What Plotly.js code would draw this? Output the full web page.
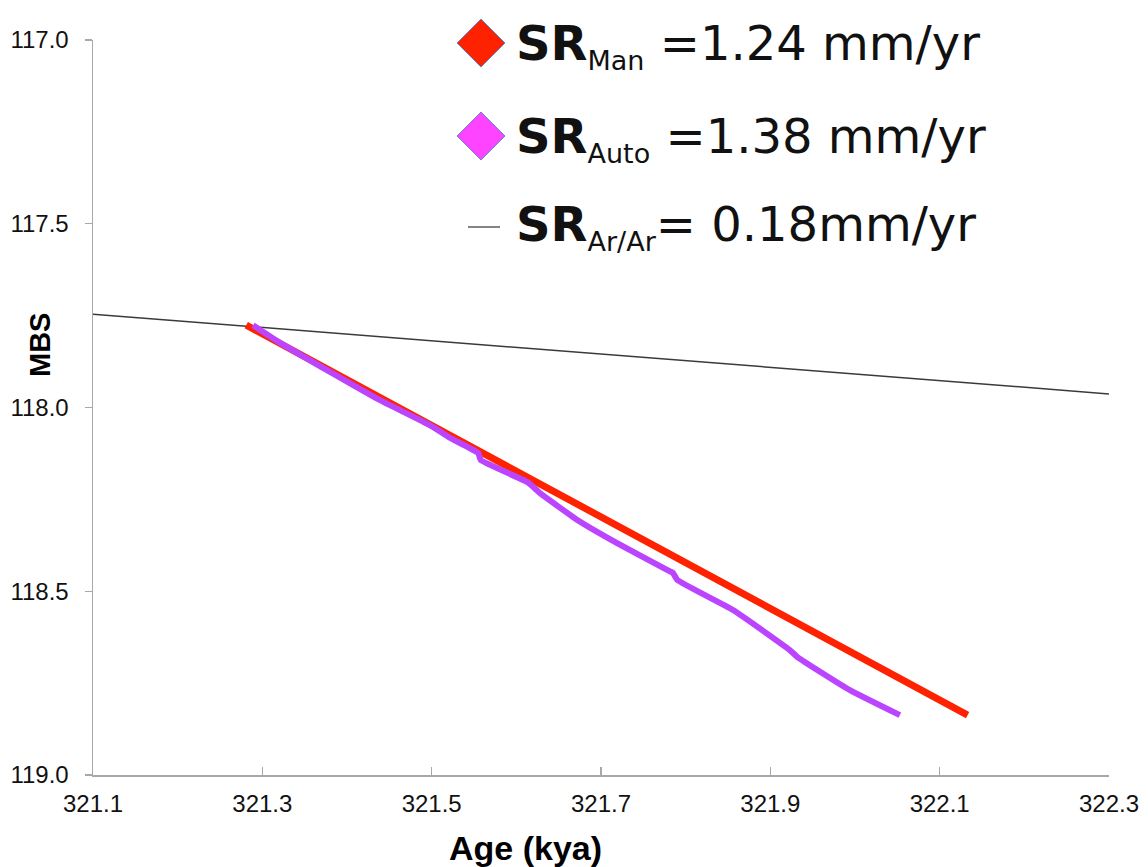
<!DOCTYPE html>
<html>
<head>
<meta charset="utf-8">
<script src="https://cdn.plot.ly/plotly-3.0.1.min.js"></script>
<style>
  html, body { margin: 0; padding: 0; background: #ffffff; }
  #chart { width: 1148px; height: 867px; }
</style>
</head>
<body>
<div id="chart"></div>
<script>
// Sedimentation-rate comparison: depth (MBS) against age (kya)

// Manually picked tie points (straight fit)
const ageMan = [321.281, 322.133];
const mbsMan = [117.776, 118.837];

// Automatically tuned depth-age curve
const ageAuto = [321.289, 321.321, 321.380, 321.439, 321.498, 321.522, 321.555, 321.558,
                 321.613, 321.628, 321.672, 321.719, 321.778, 321.785, 321.790, 321.856,
                 321.923, 321.932, 321.994, 322.053];
const mbsAuto = [117.776, 117.824, 117.903, 117.980, 118.048, 118.083, 118.124, 118.143,
                 118.203, 118.233, 118.306, 118.369, 118.442, 118.450, 118.469, 118.551,
                 118.660, 118.679, 118.769, 118.837];

// Ar/Ar dated rate across the full age window
const ageArAr = [321.1, 322.3];
const mbsArAr = [117.746, 117.963];

// Axis ticks
const xTicks = [321.1, 321.3, 321.5, 321.7, 321.9, 322.1, 322.3];
const yTicks = [117.0, 117.5, 118.0, 118.5, 119.0];

// Legend entries
const legendNames = ['Man', 'Auto', 'Ar/Ar'];
const legendRates = [' =1.24 mm/yr', ' =1.38 mm/yr', '= 0.18mm/yr'];
const legendColors = ['#ff2200', '#ff44ff', '#333333'];

const RED = '#ff2200';
const PURPLE = '#bb44ff';

const traces = [
  {
    x: ageArAr, y: mbsArAr, mode: 'lines', name: 'SR Ar/Ar',
    line: { color: '#3a3a3a', width: 1.5 }, hoverinfo: 'x+y'
  },
  {
    x: ageMan, y: mbsMan, mode: 'lines', name: 'SR Man',
    line: { color: RED, width: 7 }, hoverinfo: 'x+y'
  },
  {
    x: ageAuto, y: mbsAuto, mode: 'lines', name: 'SR Auto',
    line: { color: PURPLE, width: 6, shape: 'spline', smoothing: 0.4 }, hoverinfo: 'x+y'
  }
];

// Plot area geometry in pixels
const W = 1148, H = 867;
const M = { l: 93, r: 39, t: 40, b: 92 };
const PW = W - M.l - M.r, PH = H - M.t - M.b;
const px = (x) => (x - M.l) / PW;          // pixel x -> paper x
const py = (y) => (H - M.b - y) / PH;      // pixel y -> paper y

// Legend: diamond swatches, a short line swatch and the rate labels
const swatchRows = [43, 136, 227];
const labelRows = [45, 139, 226];
const shapes = [];
const annotations = [];
swatchRows.forEach((cy, i) => {
  const cx = 481, hw = 24;
  if (i < 2) {
    const path = 'M ' + px(cx - hw) + ' ' + py(cy) +
                 ' L ' + px(cx) + ' ' + py(cy - hw) +
                 ' L ' + px(cx + hw) + ' ' + py(cy) +
                 ' L ' + px(cx) + ' ' + py(cy + hw) + ' Z';
    shapes.push({
      type: 'path', xref: 'paper', yref: 'paper', path: path,
      fillcolor: legendColors[i], line: { color: '#5b86d0', width: 1 }
    });
  } else {
    shapes.push({
      type: 'line', xref: 'paper', yref: 'paper',
      x0: px(468), x1: px(500), y0: py(cy), y1: py(cy),
      line: { color: legendColors[i], width: 1.2 }
    });
  }
  annotations.push({
    xref: 'paper', yref: 'paper', x: px(514), y: py(labelRows[i]),
    xanchor: 'left', yanchor: 'middle', showarrow: false,
    text: '<b>SR</b><sub><span style="font-size:27px">' + legendNames[i] +
          '</span></sub>' + legendRates[i],
    font: { family: 'DejaVu Sans, Verdana, sans-serif', size: 48, color: '#111111' }
  });
});

// Axis titles placed as in the figure
annotations.push({
  xref: 'paper', yref: 'paper', x: px(525), y: py(848),
  xanchor: 'center', yanchor: 'middle', showarrow: false,
  text: '<b>Age (kya)</b>',
  font: { family: 'Liberation Sans, Arial, sans-serif', size: 34, color: '#000000' }
});
annotations.push({
  xref: 'paper', yref: 'paper', x: px(40), y: py(345),
  xanchor: 'center', yanchor: 'middle', showarrow: false, textangle: -90,
  text: '<b>MBS</b>',
  font: { family: 'Liberation Sans, Arial, sans-serif', size: 29, color: '#000000' }
});

const tickFont = { family: 'Liberation Sans, Arial, sans-serif', size: 24, color: '#111111' };

const layout = {
  width: W, height: H,
  margin: M,
  paper_bgcolor: '#ffffff', plot_bgcolor: '#ffffff',
  showlegend: false,
  xaxis: {
    range: [321.1, 322.3], tickvals: xTicks, tickformat: '.1f',
    showgrid: false, zeroline: false,
    showline: true, linecolor: '#a8a8a8', linewidth: 1.5,
    ticks: 'inside', ticklen: 8, tickcolor: '#a8a8a8', tickwidth: 1.2,
    ticklabelstandoff: 7,
    tickfont: tickFont
  },
  yaxis: {
    range: [119.0, 117.0], tickvals: yTicks, tickformat: '.1f',
    showgrid: false, zeroline: false,
    showline: true, linecolor: '#a8a8a8', linewidth: 1.5,
    ticks: 'outside', ticklen: 7, tickcolor: '#a8a8a8', tickwidth: 1.2,
    ticklabelstandoff: 11,
    tickfont: tickFont
  },
  shapes: shapes,
  annotations: annotations
};

Plotly.newPlot('chart', traces, layout, { displayModeBar: false, staticPlot: true });
</script>
</body>
</html>
